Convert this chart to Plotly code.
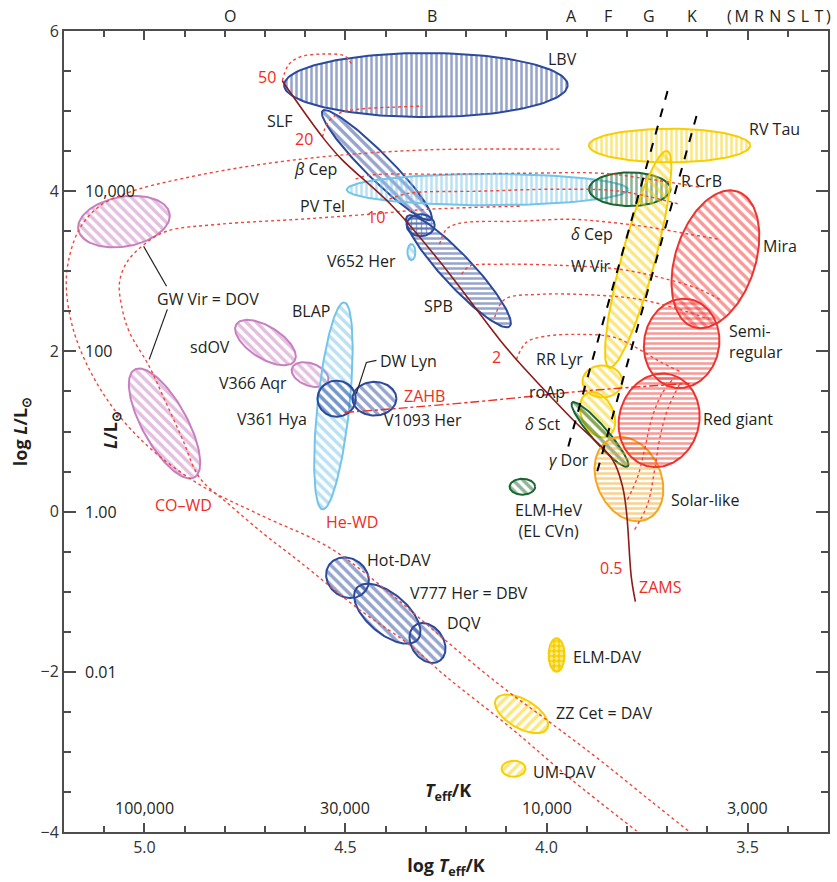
import numpy as np
import plotly.graph_objects as go

# ---------------- frame ----------------
X_RANGE = [5.2, 3.3]          # log Teff, hot on the left
Y_RANGE = [-4.0, 6.0]         # log L/Lsun
W, H = 837, 882
MARGIN = dict(l=64, r=7, t=31, b=50)

# ---------------- pulsator regions (centre, semi-axes in dex of log L, tilt in deg) ----------------
reg_name = ["LBV", "SLF", "beta Cep core", "PV Tel", "SPB", "V652 Her",
            "GW Vir hot", "GW Vir cool", "sdOV", "V366 Aqr", "BLAP",
            "V361 Hya", "V1093 Her", "Hot-DAV", "V777 Her", "DQV",
            "ELM-HeV", "ELM-DAV", "ZZ Cet", "UM-DAV",
            "RV Tau", "R CrB", "Cepheids", "RR Lyr", "delta Sct", "gamma Dor",
            "Solar-like", "Red giant", "Semi-regular", "Mira"]
reg_logT = [4.300, 4.422, 4.313, 4.147, 4.219, 4.336,
            5.051, 4.950, 4.699, 4.588, 4.530,
            4.522, 4.428, 4.495, 4.396, 4.296,
            4.060, 3.975, 4.062, 4.082,
            3.694, 3.793, 3.772, 3.861, 3.873, 3.867,
            3.795, 3.720, 3.664, 3.580]
reg_logL = [5.325, 4.325, 3.575, 4.020, 3.000, 3.240,
            3.620, 1.100, 2.110, 1.710, 1.320,
            1.410, 1.410, -0.825, -1.275, -1.640,
            0.310, -1.790, -2.525, -3.210,
            4.570, 4.025, 3.150, 1.625, 1.210, 0.9625,
            0.406, 1.140, 2.100, 3.150]
reg_a = [1.775, 0.96, 0.175, 1.76, 0.94, 0.05,
         0.58, 0.77, 0.43, 0.24, 1.30,
         0.24, 0.275, 0.28, 0.50, 0.27,
         0.16, 0.10, 0.37, 0.15,
         1.01, 0.51, 1.40, 0.25, 0.30, 0.53,
         0.55, 0.59, 0.56, 0.89]
reg_b = [0.40, 0.16, 0.1375, 0.195, 0.19, 0.10,
         0.31, 0.28, 0.20, 0.14, 0.20,
         0.225, 0.21, 0.24, 0.25, 0.20,
         0.10, 0.21, 0.18, 0.10,
         0.21, 0.21, 0.21, 0.20, 0.20, 0.10,
         0.40, 0.50, 0.47, 0.50]
reg_tilt = [0, -45, 0, 0, -47, 0,
            10, -61, -32, -20, 84,
            0, 0, -35, -40, -55,
            0, 0, -30, 0,
            0, 0, 75, 0, -65, -49,
            -65, 74, 80, 72]
reg_family = ["blue", "blue", "blue", "sky", "blue", "sky",
              "pink", "pink", "pink", "pink", "sky",
              "blue", "blue", "blue", "blue", "blue",
              "green", "yellow", "yellow", "yellow",
              "yellow", "green", "yellow", "yellow", "yellow", "green",
              "orange", "red", "red", "red"]
reg_hatch = ["|", "\\", "+", "|", "-", "\\",
             "\\", "\\", "\\", "\\", "\\",
             "\\", "\\", "\\", "\\", "\\",
             "\\", ".", "/", "/",
             "|", "|", "\\", "\\", "\\", "\\",
             "-", "-", "-", "\\"]

COLORS = {"blue": "#2c4a9c", "sky": "#74c4ea", "pink": "#c87fc0",
          "green": "#1a6630", "yellow": "#f7cf00", "orange": "#f6a51f",
          "red": "#ed3330"}
TRACK_RED = "#f0463c"
ZAMS_RED = "#8e1b1b"
INK = "#231f20"
LABEL_RED = "#ee2d24"

# ---------------- evolutionary tracks ----------------
zams_T = [4.657, 4.557, 4.510, 4.383, 4.266, 4.117, 4.075, 3.935, 3.836, 3.811, 3.801, 3.789, 3.779]
zams_L = [5.375, 4.675, 4.400, 3.8125, 3.125, 2.150, 1.900, 1.150, 0.650, 0.3125, -0.0125, -0.825, -1.125]

track_T = {
    "50": [4.657, 4.642, 4.614, 4.552, 4.502, 4.485],
    "20": [4.557, 4.545, 4.515, 4.465, 4.378, 4.308],
    "15": [4.475, 4.440, 4.241, 4.042, 3.868, 3.744, 3.619],
    "12": [4.391, 4.341, 4.167, 3.968, 3.818, 3.669],
    "7": [4.266, 4.249, 4.216, 4.067, 3.943, 3.843, 3.744, 3.644, 3.570],
    "5": [4.211, 4.192, 4.117, 3.968, 3.818, 3.719, 3.619, 3.570],
    "3": [4.129, 4.104, 4.017, 3.868, 3.769, 3.669, 3.595],
    "2": [4.075, 4.050, 4.005, 3.918, 3.831, 3.769, 3.719, 3.669],
    "1a": [3.799, 3.774, 3.756, 3.739, 3.714, 3.682],
    "1b": [3.781, 3.749, 3.731, 3.719, 3.699, 3.669],
    # post-AGB / white-dwarf cooling sequences
    "wd_co": [3.968, 4.192, 4.316, 4.540, 4.739, 4.913, 5.030, 5.112, 5.162, 5.189, 5.194, 5.177,
              5.137, 5.075, 4.988, 4.863, 4.714, 4.540, 4.391, 4.259, 4.117, 3.993, 3.868, 3.744, 3.644],
    "wd_he": [4.067, 4.291, 4.440, 4.614, 4.813, 4.945, 5.000, 5.042, 5.062, 5.055, 5.037, 4.988,
              4.950, 4.905, 4.863, 4.789, 4.701, 4.614, 4.465, 4.341, 4.249, 4.092, 3.943, 3.776],
}
track_L = {
    "50": [5.375, 5.575, 5.675, 5.7125, 5.6875, 5.5875],
    "20": [4.675, 4.850, 4.975, 5.025, 5.050, 5.0625],
    "15": [4.150, 4.200, 4.2125, 4.225, 4.225, 4.150, 4.050],
    "12": [3.900, 3.975, 4.000, 4.025, 4.000, 3.8375],
    "7": [3.3375, 3.525, 3.600, 3.625, 3.650, 3.6125, 3.550, 3.4625, 3.400],
    "5": [2.9625, 3.0625, 3.0875, 3.075, 3.025, 2.925, 2.775, 2.650],
    "3": [2.425, 2.650, 2.7125, 2.700, 2.650, 2.525, 2.400],
    "2": [1.900, 2.1125, 2.1875, 2.2125, 2.175, 2.025, 1.875, 1.750],
    "1a": [0.150, 0.425, 0.775, 1.150, 1.4625, 1.675],
    "1b": [-0.225, 0.0875, 0.525, 0.900, 1.275, 1.5875],
    "wd_co": [4.525, 4.525, 4.5125, 4.4375, 4.3125, 4.150, 4.000, 3.8125, 3.525, 3.125, 2.775, 2.275,
              1.775, 1.275, 0.800, 0.3375, -0.0375, -0.450, -1.0125, -1.575, -2.1625, -2.625, -3.100, -3.600, -4.000],
    "wd_he": [3.8125, 3.775, 3.7125, 3.650, 3.5875, 3.500, 3.3375, 3.125, 2.8625, 2.525, 2.2375, 1.8125,
              1.400, 0.900, 0.425, 0.0875, -0.2875, -0.625, -1.225, -1.6625, -2.0625, -2.6875, -3.325, -3.9875],
}

zahb_T = [4.502, 4.341, 4.167, 4.042, 3.918, 3.794, 3.644]
zahb_L = [1.2375, 1.300, 1.375, 1.4375, 1.500, 1.550, 1.600]

# classical instability strip edges
strip_blue_T = [3.699, 3.948]
strip_blue_L = [5.25, 0.775]
strip_red_T = [3.627, 3.876]
strip_red_L = [4.94, 0.4625]

# leader lines
leader_gw_1_T, leader_gw_1_L = [5.002, 4.945], [3.3125, 2.8125]
leader_gw_2_T, leader_gw_2_L = [4.943, 4.988], [2.525, 1.900]
leader_dw_T, leader_dw_L = [4.473, 4.448, 4.423], [1.475, 1.8625, 1.8875]

# ---------------- labels ----------------
labels_black = [
    ("LBV", 3.960, 5.65), ("SLF", 4.664, 4.875), ("<i>β</i> Cep", 4.575, 4.275),
    ("PV Tel", 4.557, 3.8125), ("V652 Her", 4.460, 3.125), ("SPB", 4.269, 2.5625),
    ("GW Vir = DOV", 4.841, 2.65), ("sdOV", 4.838, 2.05), ("BLAP", 4.585, 2.50),
    ("V366 Aqr", 4.731, 1.60), ("V361 Hya", 4.682, 1.15), ("DW Lyn", 4.343, 1.875),
    ("V1093 Her", 4.306, 1.1375), ("Hot-DAV", 4.366, -0.60),
    ("V777 Her = DBV", 4.192, -1.0125), ("DQV", 4.206, -1.3875),
    ("ELM-HeV<br>(EL CVn)", 3.993, -0.1125), ("ELM-DAV", 3.848, -1.8125),
    ("ZZ Cet = DAV", 3.856, -2.5125), ("UM-DAV", 3.955, -3.25),
    ("RV Tau", 3.433, 4.775), ("R CrB", 3.614, 4.125), ("Mira", 3.420, 3.3125),
    ("<i>δ</i> Cep", 3.888, 3.4625), ("W Vir", 3.890, 3.0625),
    ("RR Lyr", 3.968, 1.90), ("roAp", 3.998, 1.4875), ("<i>δ</i> Sct", 4.010, 1.0875),
    ("<i>γ</i> Dor", 3.943, 0.65), ("Red giant", 3.525, 1.15), ("Solar-like", 3.604, 0.15),
]
labels_red = [
    ("50", 4.694, 5.425), ("20", 4.604, 4.65), ("10", 4.423, 3.675), ("2", 4.124, 1.925),
    ("0.5", 3.838, -0.70), ("ZAMS", 3.716, -0.9375), ("ZAHB", 4.303, 1.4375),
    ("He-WD", 4.485, -0.125), ("CO–WD", 4.903, 0.0875),
]
lum_vals = [4, 2, 0, -2]
lum_text = ["10,000", "100", "1.00", "0.01"]
temp_vals = [5.0, 4.5, 4.0, 3.5]
temp_text = ["100,000", "30,000", "10,000", "3,000"]
spec_pos = [4.786, 4.286, 3.938, 3.846, 3.744, 3.639]
spec_text = ["O", "B", "A", "F", "G", "K"]
spec_late = "(\u2009M\u2004R\u2004N\u2004S\u2004L\u2004T\u2009)"

# ---------------- helpers ----------------
plot_w = W - MARGIN["l"] - MARGIN["r"]
plot_h = H - MARGIN["t"] - MARGIN["b"]
px_per_T = plot_w / abs(X_RANGE[0] - X_RANGE[1])
px_per_L = plot_h / abs(Y_RANGE[1] - Y_RANGE[0])
ASPECT = px_per_T / px_per_L


def ellipse(cx, cy, a, b, tilt, n=140):
    """Ellipse that is round on screen: a, b in log L units, tilt counter-clockwise."""
    t = np.linspace(0, 2 * np.pi, n)
    th = np.radians(tilt)
    u = a * np.cos(t) * np.cos(th) - b * np.sin(t) * np.sin(th)
    v = a * np.cos(t) * np.sin(th) + b * np.sin(t) * np.cos(th)
    return cx - u / ASPECT, cy + v


fig = go.Figure()

for i in range(len(reg_name)):
    col = COLORS[reg_family[i]]
    ex, ey = ellipse(reg_logT[i], reg_logL[i], reg_a[i], reg_b[i], reg_tilt[i])
    hatch = reg_hatch[i]
    if hatch == ".":
        pattern = dict(shape=".", fillmode="overlay", bgcolor=col, fgcolor="white", size=5, solidity=0.45)
    elif hatch in ("/", "\\"):
        pattern = dict(shape=hatch, fgcolor=col, size=7, solidity=0.48)
    else:
        pattern = dict(shape=hatch, fgcolor=col, size=5, solidity=0.5)
    fig.add_trace(go.Scatter(
        x=ex, y=ey, mode="lines", fill="toself", fillcolor="rgba(0,0,0,0)",
        fillpattern=pattern, line=dict(color=col, width=2),
        name=reg_name[i], hoverinfo="skip", showlegend=False))

# dotted evolutionary tracks
for key in track_T:
    fig.add_trace(go.Scatter(
        x=track_T[key], y=track_L[key], mode="lines", line_shape="spline",
        line=dict(color=TRACK_RED, width=1.4, dash="dot"),
        hoverinfo="skip", showlegend=False))

# zero-age horizontal branch
fig.add_trace(go.Scatter(x=zahb_T, y=zahb_L, mode="lines", line_shape="spline",
                         line=dict(color=LABEL_RED, width=1.4, dash="dashdot"),
                         hoverinfo="skip", showlegend=False))

# zero-age main sequence
fig.add_trace(go.Scatter(x=zams_T, y=zams_L, mode="lines", line_shape="spline",
                         line=dict(color=ZAMS_RED, width=1.6),
                         hoverinfo="skip", showlegend=False))

# instability strip
for sx, sy in ((strip_blue_T, strip_blue_L), (strip_red_T, strip_red_L)):
    fig.add_trace(go.Scatter(x=sx, y=sy, mode="lines",
                             line=dict(color="black", width=2, dash="dash"),
                             hoverinfo="skip", showlegend=False))

# label leaders
for lx, ly in ((leader_gw_1_T, leader_gw_1_L), (leader_gw_2_T, leader_gw_2_L), (leader_dw_T, leader_dw_L)):
    fig.add_trace(go.Scatter(x=lx, y=ly, mode="lines", line=dict(color=INK, width=1.2),
                             hoverinfo="skip", showlegend=False))

FS = 16
ann = []
for txt, x, y in labels_black:
    ann.append(dict(text=txt, x=x, y=y, xref="x", yref="y", showarrow=False,
                    font=dict(size=FS, color=INK)))
ann.append(dict(text="Semi-<br>regular", x=3.55, y=2.119, xref="x", yref="y", showarrow=False,
                xanchor="left", align="left", font=dict(size=FS, color=INK)))
for txt, x, y in labels_red:
    ann.append(dict(text=txt, x=x, y=y, xref="x", yref="y", showarrow=False,
                    font=dict(size=FS, color=LABEL_RED)))
for v, txt in zip(lum_vals, lum_text):
    ann.append(dict(text=txt, x=5.152, y=v, xref="x", yref="y", showarrow=False,
                    xanchor="left", font=dict(size=FS, color=INK)))
for v, txt in zip(temp_vals, temp_text):
    ann.append(dict(text=txt, x=v, y=-3.7, xref="x", yref="y", showarrow=False,
                    font=dict(size=FS, color=INK)))
ann.append(dict(text="<b><i>T</i><sub>eff</sub>/K</b>", x=4.246, y=-3.5, xref="x", yref="y",
                showarrow=False, font=dict(size=18, color=INK)))
ann.append(dict(text="<b><i>L</i>/L<sub>⊙</sub></b>", x=5.082, y=1.025, xref="x", yref="y",
                showarrow=False, textangle=-90, font=dict(size=18, color=INK)))
for x, txt in zip(spec_pos, spec_text):
    ann.append(dict(text=txt, x=x, y=1, xref="x", yref="paper", yanchor="bottom", yshift=2,
                    showarrow=False, font=dict(size=FS, color=INK)))
ann.append(dict(text=spec_late, x=1, y=1, xref="paper", yref="paper", xanchor="right",
                yanchor="bottom", xshift=5, yshift=2, showarrow=False,
                font=dict(size=FS, color=INK)))

axis_common = dict(showgrid=False, zeroline=False, showline=True, linecolor="#4d4d4d",
                   linewidth=2, mirror="allticks", ticks="inside", tickcolor="#4d4d4d",
                   tickwidth=1.5, tickfont=dict(size=FS, color="#333333"))

fig.update_layout(
    width=W, height=H, margin=MARGIN, plot_bgcolor="white", paper_bgcolor="white",
    font=dict(family="Open Sans, Liberation Sans, sans-serif", color=INK),
    showlegend=False, annotations=ann,
    xaxis=dict(range=X_RANGE, tickvals=temp_vals, tickformat=".1f", ticklen=9,
               minor=dict(dtick=0.1, ticklen=6, ticks="inside", tickcolor="#4d4d4d", tickwidth=1.5),
               title=dict(text="<b>log <i>T</i><sub>eff</sub>/K</b>", font=dict(size=18), standoff=2),
               **axis_common),
    yaxis=dict(range=Y_RANGE, dtick=2, ticklen=12,
               minor=dict(dtick=0.5, ticklen=7, ticks="inside", tickcolor="#4d4d4d", tickwidth=1.5),
               title=dict(text="<b>log <i>L</i>/L<sub>⊙</sub></b>", font=dict(size=18), standoff=8),
               **axis_common),
)

fig.write_html("out.html")
